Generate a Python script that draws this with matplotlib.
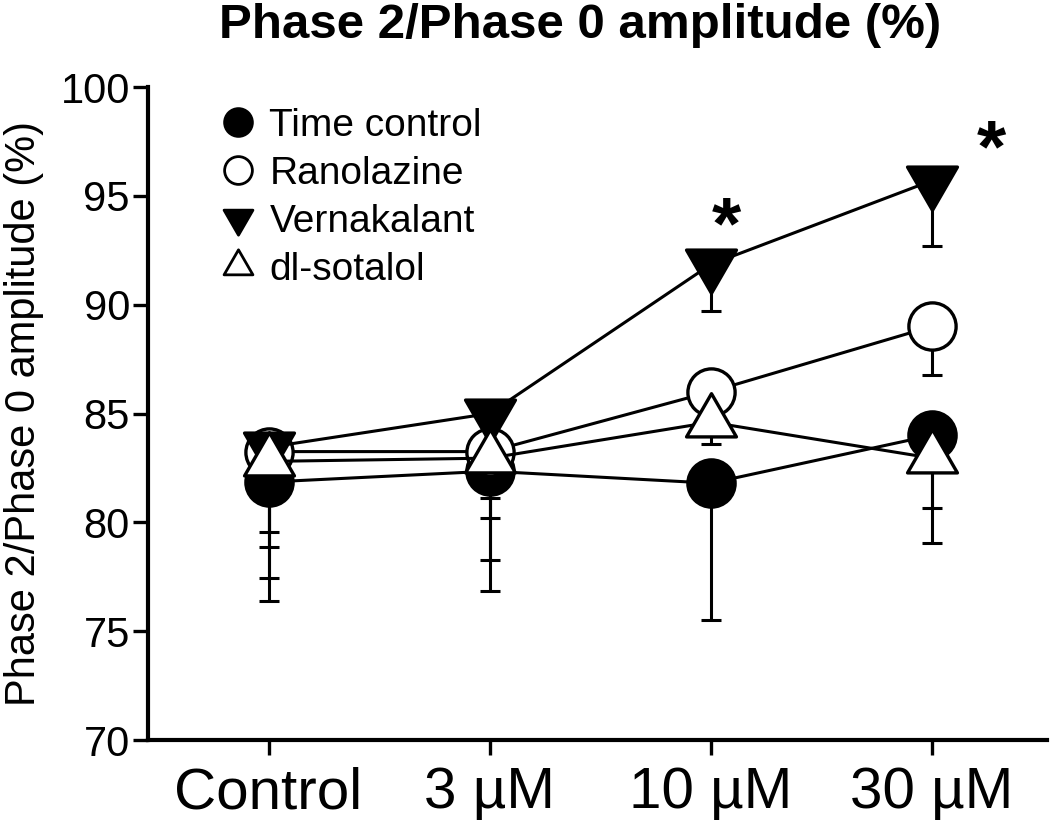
import matplotlib
matplotlib.use("Agg")
import matplotlib.pyplot as plt
from matplotlib.path import Path
from matplotlib.lines import Line2D
import numpy as np

plt.rcParams['font.family'] = ['Liberation Sans', 'DejaVu Sans']

categories = ["Control", "3 \u00b5M", "10 \u00b5M", "30 \u00b5M"]
series_names = ["Time control", "Ranolazine", "Vernakalant", "dl-sotalol"]

time_control = [81.85, 82.35, 81.8, 84.0]
time_control_sem = [5.46, 5.51, 6.3, 4.95]
ranolazine = [83.25, 83.25, 86.0, 89.0]
ranolazine_sem = [3.7, 2.15, 0.7, 2.23]
vernakalant = [83.45, 85.0, 91.85, 95.7]
vernakalant_sem = [6.0, 6.73, 2.15, 3.0]
sotalol = [82.8, 82.95, 84.6, 82.95]
sotalol_sem = [3.93, 2.75, 1.0, 2.29]

star_x = [2, 3]
star_y = [93.5, 97.0]
star_dx = [0.07, 0.27]

yticks = [70, 75, 80, 85, 90, 95, 100]

# equilateral triangles centred on their centroid
h = np.sqrt(3)
up_tri = Path([(0, 2*h/3), (-1, -h/3), (1, -h/3), (0, 2*h/3)],
              [Path.MOVETO, Path.LINETO, Path.LINETO, Path.CLOSEPOLY])
down_tri = Path([(0, -2*h/3), (-1, h/3), (1, h/3), (0, -2*h/3)],
                [Path.MOVETO, Path.LINETO, Path.LINETO, Path.CLOSEPOLY])

fig = plt.figure(figsize=(10.5, 8.21), dpi=100)
ax = fig.add_axes([148/1050, 81/821, 899/1050, 653/821])

x = np.arange(len(categories))
tri_ms = 41.5
circ_ms = 34
styles = [
    dict(marker='o', ms=circ_ms, mfc='black'),
    dict(marker='o', ms=circ_ms, mfc='white'),
    dict(marker=down_tri, ms=tri_ms, mfc='black'),
    dict(marker=up_tri, ms=tri_ms, mfc='white'),
]
data = [(time_control, time_control_sem), (ranolazine, ranolazine_sem),
        (vernakalant, vernakalant_sem), (sotalol, sotalol_sem)]

for i, ((vals, sem), st) in enumerate(zip(data, styles)):
    z = 3 + i * 2
    ax.errorbar(x, vals, yerr=[sem, np.zeros(len(sem))], fmt='none',
                ecolor='black', elinewidth=2.2, capsize=7.5, capthick=2.2,
                zorder=2)
    ax.plot(x, vals, color='black', lw=2.2, zorder=z,
            marker=st['marker'], ms=st['ms'], mfc=st['mfc'], mec='black',
            mew=2.4)

for sx, sy, dx in zip(star_x, star_y, star_dx):
    ax.text(sx + dx, sy, "*", fontsize=54, fontweight='bold',
            ha='center', va='center', zorder=20)

ax.set_xlim(-0.545, 3.52)
ax.set_ylim(70, 100)
ax.set_yticks(yticks)
ax.set_xticks(x)
ax.set_xticklabels(categories, fontsize=42)
ax.tick_params(axis='y', labelsize=30, length=11, width=2.4, pad=2)
ax.tick_params(axis='x', length=11, width=2.4, pad=8)
for s in ['top', 'right']:
    ax.spines[s].set_visible(False)
for s in ['left', 'bottom']:
    ax.spines[s].set_linewidth(3)
ax.set_ylabel("Phase 2/Phase 0 amplitude (%)", fontsize=30, labelpad=12)

handles = [
    Line2D([], [], ls='none', marker='o', ms=20, mfc='black', mec='black', mew=2),
    Line2D([], [], ls='none', marker='o', ms=20, mfc='white', mec='black', mew=2),
    Line2D([], [], ls='none', marker=down_tri, ms=24, mfc='black', mec='black', mew=2),
    Line2D([], [], ls='none', marker=up_tri, ms=24, mfc='white', mec='black', mew=2),
]
ax.legend(handles, series_names, loc='upper left', frameon=False,
          fontsize=28, handlelength=1.0, handletextpad=0.32,
          labelspacing=0.31, borderpad=0, borderaxespad=0,
          bbox_to_anchor=(0.078, 0.968))

fig.text(580/1050, 1 - 25/821, "Phase 2/Phase 0 amplitude (%)", fontsize=35.5,
         fontweight='bold', ha='center', va='center')

fig.savefig("out.png", dpi=100)
